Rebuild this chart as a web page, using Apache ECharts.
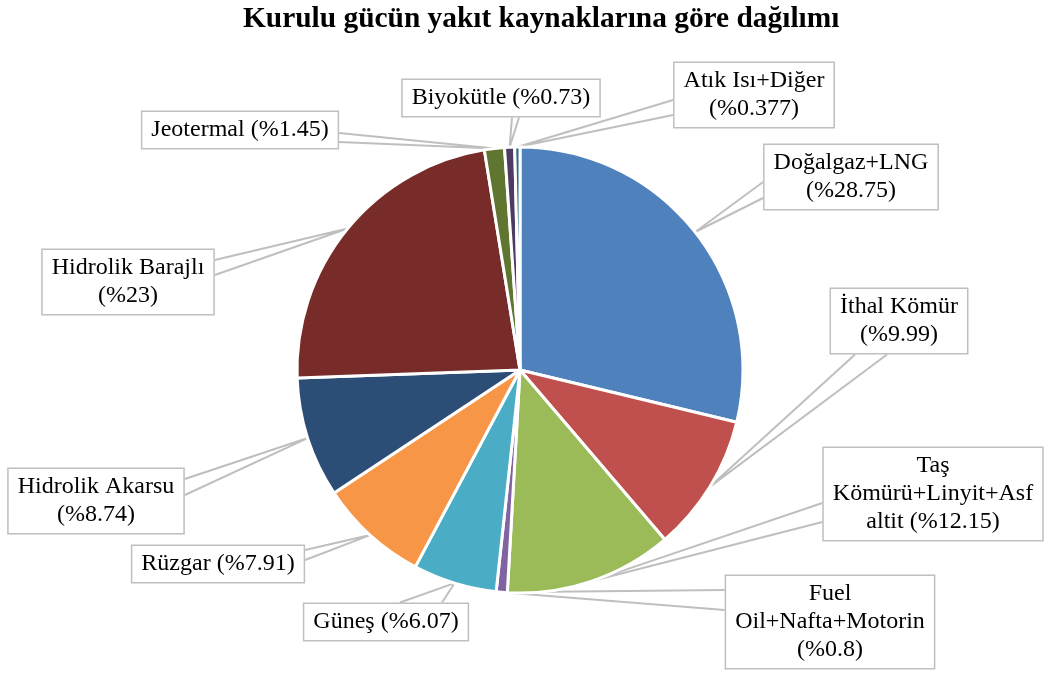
<!DOCTYPE html>
<html>
<head>
<meta charset="utf-8">
<title>Kurulu gücün yakıt kaynaklarına göre dağılımı</title>
<script src="https://cdn.jsdelivr.net/npm/echarts@6/dist/echarts.min.js"></script>
<style>
  html, body { margin: 0; padding: 0; background: #fff; }
  #main { width: 1051px; height: 673px; }
</style>
</head>
<body>
<div id="main"></div>
<script>
// veri: kaynak adlari, yuzde paylari, etiket metinleri
const categories = ['Doğalgaz+LNG', 'İthal Kömür', 'Taş Kömürü+Linyit+Asfaltit', 'Fuel Oil+Nafta+Motorin',
  'Güneş', 'Rüzgar', 'Hidrolik Akarsu', 'Hidrolik Barajlı', 'Jeotermal', 'Biyokütle', 'Atık Isı+Diğer'];
const shares = [28.75, 9.99, 12.15, 0.8, 6.07, 7.91, 8.74, 23, 1.45, 0.73, 0.377];
const labelTexts = [
  'Doğalgaz+LNG\n(%28.75)',
  'İthal Kömür\n(%9.99)',
  'Taş\nKömürü+Linyit+Asf\naltit (%12.15)',
  'Fuel\nOil+Nafta+Motorin\n(%0.8)',
  'Güneş (%6.07)',
  'Rüzgar (%7.91)',
  'Hidrolik Akarsu\n(%8.74)',
  'Hidrolik Barajlı\n(%23)',
  'Jeotermal (%1.45)',
  'Biyokütle (%0.73)',
  'Atık Isı+Diğer\n(%0.377)'
];
const colors = ['#4F81BD', '#C0504D', '#9BBB59', '#8064A2', '#4BACC6', '#F79646',
  '#2C4D75', '#772C2A', '#5F7530', '#4D3B62', '#276A7C'];

// etiket kutularinin yerleri (merkez) ve okun kutuya baglandigi kenar
const boxes = [
  { x: 851, y: 177, side: 'left', a: 182, b: 198 },
  { x: 899, y: 321, side: 'bottom', a: 855, b: 887 },
  { x: 933, y: 494, side: 'left', a: 503, b: 522 },
  { x: 830, y: 622, side: 'left', a: 590, b: 610 },
  { x: 386, y: 622, side: 'top', a: 400, b: 442 },
  { x: 218, y: 564, side: 'right', a: 550, b: 560 },
  { x: 96, y: 501, side: 'right', a: 479, b: 495 },
  { x: 128, y: 282, side: 'right', a: 260, b: 275 },
  { x: 240, y: 130, side: 'right', a: 133, b: 142 },
  { x: 501, y: 98, side: 'bottom', a: 512, b: 519 },
  { x: 754, y: 95, side: 'left', a: 100, b: 115 }
];

var myChart = echarts.init(document.getElementById('main'));

var data = categories.map(function (name, i) {
  return { name: name, value: shares[i], itemStyle: { color: colors[i] } };
});

var option = {
  backgroundColor: '#fff',
  animation: false,
  title: {
    text: 'Kurulu gücün yakıt kaynaklarına göre dağılımı',
    left: 238,
    top: 0,
    textStyle: {
      fontFamily: 'Liberation Serif',
      fontWeight: 'bold',
      fontSize: 29.4,
      color: '#000'
    }
  },
  series: [{
    type: 'pie',
    center: [520, 370],
    radius: 223,
    startAngle: 90,
    clockwise: true,
    avoidLabelOverlap: false,
    data: data,
    itemStyle: { borderColor: '#fff', borderWidth: 3 },
    label: {
      show: true,
      formatter: function (p) { return labelTexts[p.dataIndex]; },
      fontFamily: 'Liberation Serif',
      fontSize: 24,
      lineHeight: 28,
      color: '#000',
      backgroundColor: '#fff',
      borderColor: '#BFBFBF',
      borderWidth: 1.5,
      padding: [4, 9]
    },
    labelLine: {
      show: true,
      length: 10,
      length2: 10,
      lineStyle: { color: '#BFBFBF', width: 2 }
    },
    labelLayout: function (params) {
      var b = boxes[params.dataIndex];
      var w = params.labelRect.width, h = params.labelRect.height;
      var tip = params.labelLinePoints[0];
      var p1, p2;
      if (b.side === 'left') {
        p1 = [b.x - w / 2, b.a]; p2 = [b.x - w / 2, b.b];
      } else if (b.side === 'right') {
        p1 = [b.x + w / 2, b.a]; p2 = [b.x + w / 2, b.b];
      } else if (b.side === 'top') {
        p1 = [b.a, b.y - h / 2]; p2 = [b.b, b.y - h / 2];
      } else {
        p1 = [b.a, b.y + h / 2]; p2 = [b.b, b.y + h / 2];
      }
      return {
        x: b.x, y: b.y, align: 'center', verticalAlign: 'middle',
        labelLinePoints: [p1, tip, p2]
      };
    }
  }]
};

myChart.setOption(option);
</script>
</body>
</html>
